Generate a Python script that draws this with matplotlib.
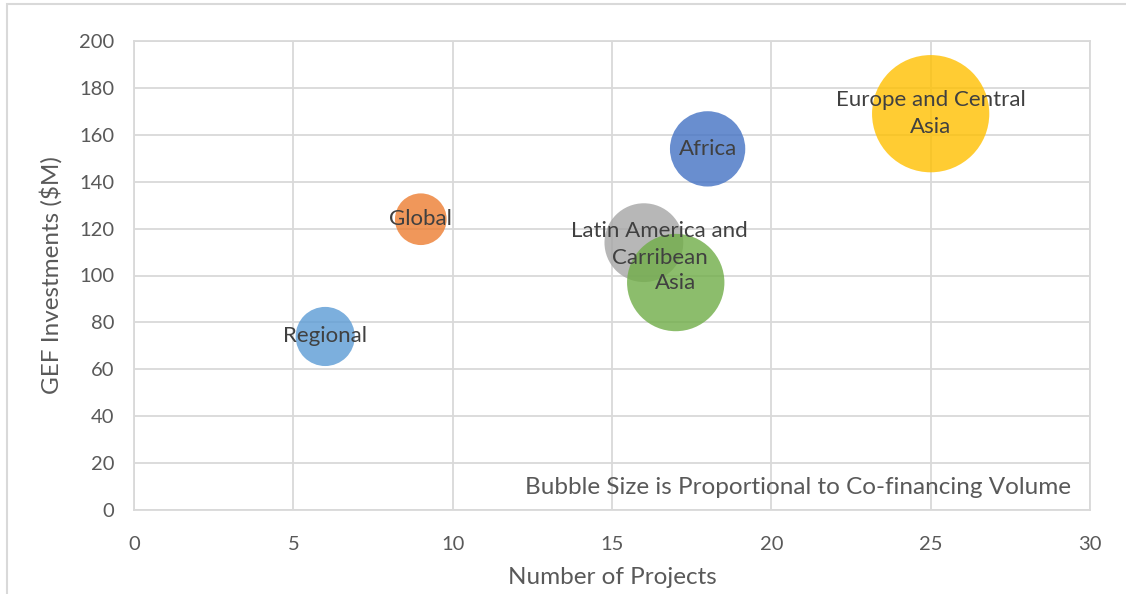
import numpy as np
import matplotlib
matplotlib.use("Agg")
import matplotlib.pyplot as plt
from matplotlib.patches import Rectangle

# data
regions = ["Latin America and\nCarribean", "Asia", "Africa",
           "Europe and Central\nAsia", "Global", "Regional"]
projects = [16, 17, 18, 25, 9, 6]
gef_invest = [114, 97, 154, 169, 124, 74]  # $M
cofinancing = [465, 710, 425, 1030, 200, 262]  # relative bubble size
colors = ["#A5A5A5", "#70AD47", "#4472C4", "#FFC000", "#ED7D31", "#5B9BD5"]

plt.rcParams["font.family"] = ["Lato", "DejaVu Sans"]

W, H, dpi = 1126, 594, 100
fig = plt.figure(figsize=(W / dpi, H / dpi), dpi=dpi)
left, right, top, bottom = 134, 1090, 41, 510
ax = fig.add_axes([left / W, 1 - bottom / H, (right - left) / W, (bottom - top) / H])

# chart area border (runs off the right/bottom of the crop)
fig.patches.append(Rectangle((7 / W, -0.1), 1.2, 1 - 4 / H + 0.1,
                             transform=fig.transFigure, fill=False,
                             edgecolor="#D9D9D9", lw=1.5))

# Excel style bubble scaling: largest bubble = 25% of plot height
ax_h_pt = (bottom - top) / dpi * 72
dmax = 0.25 * ax_h_pt
vmax = max(cofinancing)
sizes = [(dmax * np.sqrt(v / vmax)) ** 2 for v in cofinancing]

ax.scatter(projects, gef_invest, s=sizes, c=colors, alpha=0.8,
           edgecolors="none", zorder=3)

label_offsets = {"Latin America and\nCarribean": (11.5, -1.5)}
for name, x, y in zip(regions, projects, gef_invest):
    off = label_offsets.get(name, (0, 0))
    ax.annotate(name, (x, y), xytext=off, textcoords="offset points",
                ha="center", va="center", fontsize=16, color="#404040",
                linespacing=1.45, zorder=4)

ax.text(0.6946, 0.047, "Bubble Size is Proportional to Co-financing Volume",
        transform=ax.transAxes, ha="center", va="center", fontsize=17.5,
        color="#595959")

ax.set_xlim(0, 30)
ax.set_ylim(0, 200)
ax.set_xticks(range(0, 31, 5))
ax.set_yticks(range(0, 201, 20))
ax.grid(True, color="#D9D9D9", lw=1.3, zorder=0)
ax.set_axisbelow(True)
for sp in ax.spines.values():
    sp.set_color("#D9D9D9")
    sp.set_linewidth(1.3)
ax.tick_params(length=0, labelsize=14.5, labelcolor="#595959", pad=14)
ax.tick_params(axis="x", pad=19)

ax.set_xlabel("Number of Projects", fontsize=17.5, color="#595959", labelpad=10)
ax.set_ylabel("GEF Investments ($M)", fontsize=17.5, color="#595959", labelpad=12)

fig.savefig("out.png", dpi=dpi)
